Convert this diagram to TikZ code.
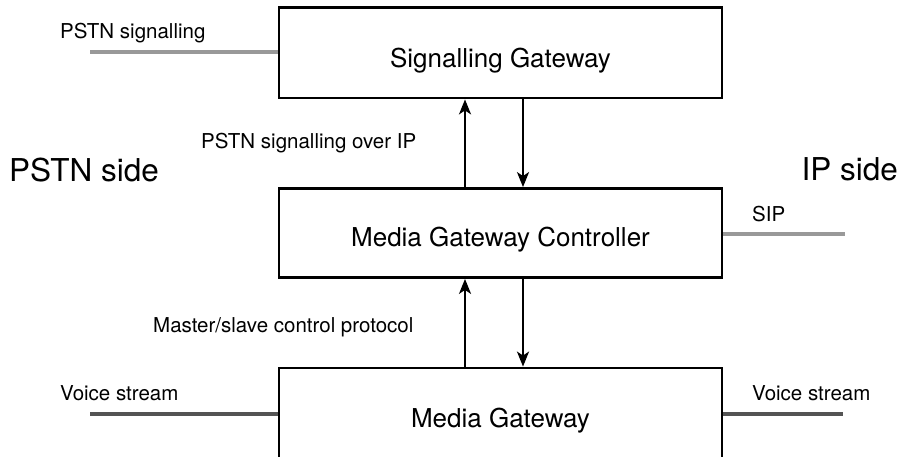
\documentclass[tikz,border=0pt]{standalone}
\usepackage{fontspec}
\setmainfont{TeX Gyre Heros}
\usetikzlibrary{arrows.meta}
\begin{document}
\begin{tikzpicture}[x=1pt,y=-1pt,
  gwbox/.style={draw=black, line width=2.8pt, minimum width=443pt, inner sep=0pt,
    font=\fontsize{26}{30}\selectfont},
  smalllbl/.style={font=\fontsize{20.5}{24}\selectfont, inner sep=0pt},
  sidelbl/.style={font=\fontsize{31.5}{36}\selectfont, inner sep=0pt},
  arr/.style={line width=2.2pt, -{Stealth[length=15pt,width=12pt,inset=4pt]}},
  sigline/.style={line width=4pt, draw=black!40},
  voiceline/.style={line width=4pt, draw=black!67}]
\useasboundingbox (0,0) rectangle (911,457);
\clip (0,0) rectangle (911,457);
\fill[white] (0,0) rectangle (911,457);

% boxes
\node[gwbox, minimum height=90.5pt, text height=29.1pt, text depth=0pt] (SG) at (500.5,52.75) {Signalling Gateway};
\node[gwbox, minimum height=89pt, text height=26.6pt, text depth=0pt] (MGC) at (500.5,233) {Media Gateway Controller};
\node[gwbox, minimum height=102pt, text height=18.7pt, text depth=2.1pt] (MG) at (500.5,419) {Media Gateway};

% arrow columns
\coordinate (ux) at (465,0);
\coordinate (dx) at (523,0);
\draw[arr] (MGC.north -| ux) -- (SG.south -| ux);
\draw[arr] (SG.south -| dx) -- (MGC.north -| dx);
\draw[arr] (MG.north -| ux) -- (MGC.south -| ux);
\draw[arr] (MGC.south -| dx) -- (MG.north -| dx);

% external lines
\coordinate (pstnend) at (90,52);
\coordinate (sipend) at (845,234);
\coordinate (vlend) at (90,414);
\coordinate (vrend) at (843,414);
\draw[sigline] (pstnend) -- (SG.west |- pstnend);
\draw[sigline] (MGC.east |- sipend) -- (sipend);
\draw[voiceline] (vlend) -- (MG.west |- vlend);
\draw[voiceline] (MG.east |- vrend) -- (vrend);

% labels
\node[smalllbl, anchor=base west] (lpstn) at (60,39) {PSTN signalling};
\node[smalllbl, anchor=base west] (lover) at (201,149) {PSTN signalling over IP};
\node[smalllbl, anchor=base west] (lms) at (153,333) {Master/slave control protocol};
\node[smalllbl, anchor=base west] (lvl) at (60,400) {Voice stream};
\node[smalllbl, anchor=base west] (lvr) at (752,400) {Voice stream};
\node[smalllbl, anchor=base west] (lsip) at (752,222) {SIP};
\node[sidelbl, anchor=base west] (lps) at (9,182) {PSTN side};
\node[sidelbl, anchor=base east] (lips) at (898,181) {IP side};
\end{tikzpicture}
\end{document}
